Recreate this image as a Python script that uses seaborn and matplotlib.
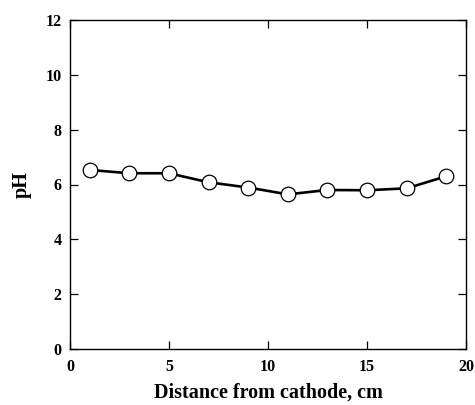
import matplotlib
matplotlib.use("Agg")
import matplotlib.pyplot as plt
import seaborn as sns
import pandas as pd

distance = [1, 3, 5, 7, 9, 11, 13, 15, 17, 19]
ph = [6.53, 6.41, 6.41, 6.08, 5.89, 5.64, 5.80, 5.79, 5.86, 6.30]
x_ticks = [0, 5, 10, 15, 20]
y_ticks = [0, 2, 4, 6, 8, 10, 12]

sns.set_style("ticks")
plt.rcParams["font.family"] = ["Liberation Serif", "DejaVu Serif"]
plt.rcParams["font.weight"] = "bold"
plt.rcParams["text.color"] = "black"
plt.rcParams["axes.labelcolor"] = "black"
plt.rcParams["xtick.color"] = "black"
plt.rcParams["ytick.color"] = "black"

df = pd.DataFrame({"Distance": distance, "pH": ph})

fig = plt.figure(figsize=(4.75, 4.05), dpi=100)
ax = fig.add_axes([70/475, 56/405, 396/475, 329/405])

sns.lineplot(data=df, x="Distance", y="pH", ax=ax, color="black", linewidth=1.9,
             marker="o", markersize=10.5, markerfacecolor="white",
             markeredgecolor="black", markeredgewidth=0.9)

ax.set_xlim(0, 20)
ax.set_ylim(0, 12)
ax.set_xticks(x_ticks)
ax.set_yticks(y_ticks)
ax.tick_params(direction="in", length=6, width=0.9, top=True, right=True,
               labelsize=11.5, colors="black", labelcolor="black", pad=6)
ax.tick_params(axis="x", pad=7)
for lbl in ax.get_xticklabels() + ax.get_yticklabels():
    lbl.set_fontweight("bold")
for s in ax.spines.values():
    s.set_linewidth(1.0)
    s.set_color("black")
ax.set_xlabel("Distance from cathode, cm", fontsize=14.5, fontweight="bold",
              labelpad=6, color="black")
ax.set_ylabel("pH", fontsize=14.5, fontweight="bold", labelpad=10, color="black")

fig.savefig("out.png", dpi=100)
